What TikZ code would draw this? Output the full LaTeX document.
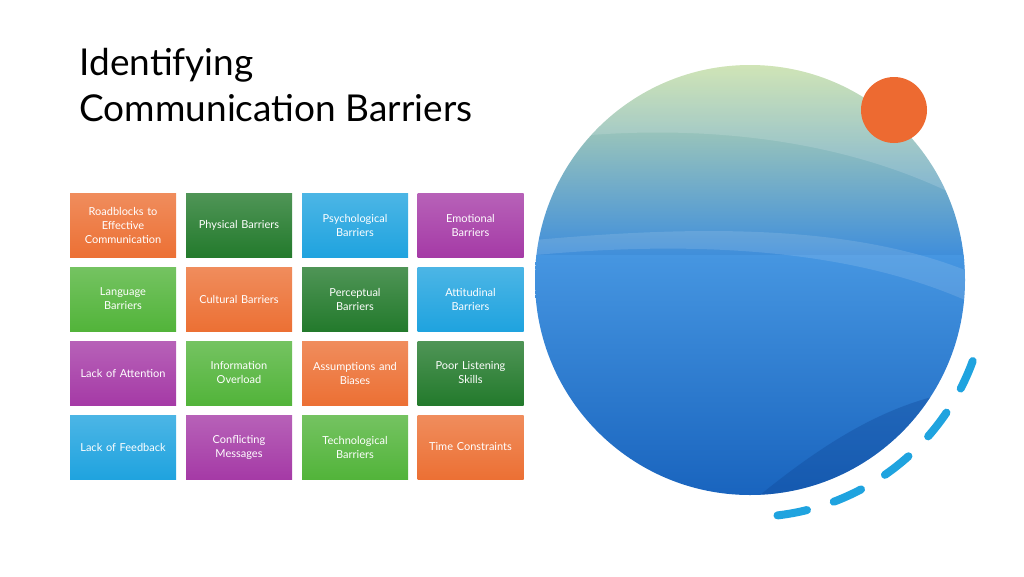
\documentclass[tikz,border=0pt]{standalone}
\usepackage{fontspec}
\setmainfont{Lato}
\definecolor{cor}{HTML}{EC7034}
\definecolor{cdg}{HTML}{237A2C}
\definecolor{cbl}{HTML}{1FA3DF}
\definecolor{cpu}{HTML}{A53AA6}
\definecolor{clg}{HTML}{52B43A}
\definecolor{s1}{RGB}{200,224,170}
\definecolor{s2}{RGB}{110,180,230}
\definecolor{s3}{RGB}{60,140,220}
\definecolor{s4}{RGB}{70,150,225}
\definecolor{s5}{RGB}{25,100,190}
\definecolor{s6}{RGB}{15,70,150}
\begin{document}
\begin{tikzpicture}[x=1pt,y=-1pt,
 tile/.style={minimum width=106pt,minimum height=64pt,inner sep=2pt,text width=100pt,align=center,font=\fontsize{11}{14}\selectfont,text=white}]
\useasboundingbox (0,0) rectangle (1024,576);
\node[anchor=west,font=\fontsize{37}{46}\selectfont,align=left] (title) at (76,85) {Identifying\\Communication Barriers};
\def\T#1#2#3#4#5{\node[tile,top color=#4!80!white,bottom color=#4] (#1) at (#2,#3) {#5};}
\T{a1}{123}{225.5}{cor}{Roadblocks to\\Effective\\Communication}
\T{a2}{239}{225.5}{cdg}{Physical Barriers}
\T{a3}{355}{225.5}{cbl}{Psychological\\Barriers}
\T{a4}{470.5}{225.5}{cpu}{Emotional\\Barriers}
\T{b1}{123}{299}{clg}{Language\\Barriers}
\T{b2}{239}{299}{cor}{Cultural Barriers}
\T{b3}{355}{299}{cdg}{Perceptual\\Barriers}
\T{b4}{470.5}{299}{cbl}{Attitudinal\\Barriers}
\T{c1}{123}{373}{cpu}{Lack of Attention}
\T{c2}{239}{373}{clg}{Information\\Overload}
\T{c3}{355}{373}{cor}{Assumptions and\\Biases}
\T{c4}{470.5}{373}{cdg}{Poor Listening\\Skills}
\T{d1}{123}{447}{cbl}{Lack of Feedback}
\T{d2}{239}{447}{cpu}{Conflicting\\Messages}
\T{d3}{355}{447}{clg}{Technological\\Barriers}
\T{d4}{470.5}{447}{cor}{Time Constraints}
\begin{scope}
\clip (750,280) circle (215);
\shade[top color=s1,middle color=s2,bottom color=s3] (535,65) rectangle (965,260);
\shade[top color=s4,bottom color=s5] (535,255) rectangle (965,495);
\fill[white,opacity=0.15] (540,140) .. controls (700,120) and (850,140) .. (965,200) -- (965,60) -- (540,60) -- cycle;
\fill[white,opacity=0.12] (535,255) .. controls (700,240) and (850,250) .. (965,300) -- (965,270) .. controls (850,225) and (700,225) .. (535,240) -- cycle;
\fill[s6,opacity=0.35] (760,495) .. controls (840,430) and (900,400) .. (965,390) -- (965,495) -- cycle;
\end{scope}
\fill[cor!95!red] (894,110) circle (33);
\draw[cbl,line width=8pt,line cap=round,dash pattern=on 30pt off 28pt] (750,280) ++(20:237) arc (20:84:237);
\end{tikzpicture}
\end{document}
